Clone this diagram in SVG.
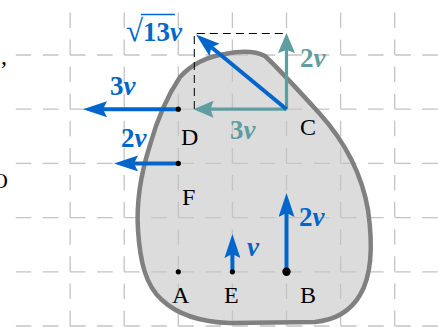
<svg xmlns="http://www.w3.org/2000/svg" width="438" height="327" viewBox="0 0 438 327">
<style>
.grid{stroke:#c4c4c4;stroke-width:1.3;stroke-dasharray:15.5 11.6;fill:none}
.gv{stroke-dashoffset:15.5}
.blue{stroke:#0066cc;stroke-width:4;fill:none}
.teal{stroke:#5f9ea0;stroke-width:3.2;fill:none}
text{font-family:"Liberation Serif","Times New Roman",serif}
.lb{font-size:27px;font-weight:bold;fill:#0066cc}
.lt{font-size:27px;font-weight:bold;fill:#5f9ea0}
.it{font-style:italic}
.nl{font-size:24px;fill:#000}
</style>
<defs>
<marker id="hb" viewBox="0 -8 24 16" markerWidth="24" markerHeight="16" refX="6" refY="0" markerUnits="userSpaceOnUse" orient="auto">
<path d="M0,-8 L24,0 L0,8 L4,0 Z" fill="#0066cc"/>
</marker>
<marker id="ht" viewBox="0 -9 20 18" markerWidth="20" markerHeight="18" refX="5" refY="0" markerUnits="userSpaceOnUse" orient="auto">
<path d="M0,-8.5 L20,0 L0,8.5 L3,0 Z" fill="#5f9ea0"/>
</marker>
</defs>
<rect width="438" height="327" fill="#fff"/>
<text x="1" y="64" font-size="24">,</text>
<text x="-8" y="188" font-size="22">O</text>
<g id="body">
<path id="blob-fill" d="M180,77 C190,66 205,57 225,54 C240,51 255,51 265,56 C280,70 300,92 320,114 C345,142 362,175 368,210 C373,245 372,275 360,295 C350,312 335,320 315,322 L230,323 C200,322 178,315 162,300 C145,285 140,260 138,230 C136,200 142,170 150,145 C157,120 168,95 180,77 Z" fill="#dcdcdc"/>
</g>
<g id="grid">
<line class="grid gv" x1="70.1" y1="0.8" x2="70.1" y2="326"/>
<line class="grid gv" x1="124.2" y1="0.8" x2="124.2" y2="326"/>
<line class="grid gv" x1="178.3" y1="0.8" x2="178.3" y2="326"/>
<line class="grid gv" x1="232.4" y1="0.8" x2="232.4" y2="326"/>
<line class="grid gv" x1="286.5" y1="0.8" x2="286.5" y2="326"/>
<line class="grid gv" x1="340.6" y1="0.8" x2="340.6" y2="326"/>
<line class="grid gv" x1="394.7" y1="0.8" x2="394.7" y2="326"/>
<line class="grid" x1="15.8" y1="55" x2="438" y2="55"/>
<line class="grid" x1="15.8" y1="109.2" x2="438" y2="109.2"/>
<line class="grid" x1="15.8" y1="163.4" x2="438" y2="163.4"/>
<line class="grid" x1="15.8" y1="217.6" x2="438" y2="217.6"/>
<line class="grid" x1="15.8" y1="271.8" x2="438" y2="271.8"/>
<line class="grid" x1="15.8" y1="326" x2="438" y2="326"/>
</g>
<path id="blob-outline" d="M180,77 C190,66 205,57 225,54 C240,51 255,51 265,56 C280,70 300,92 320,114 C345,142 362,175 368,210 C373,245 372,275 360,295 C350,312 335,320 315,322 L230,323 C200,322 178,315 162,300 C145,285 140,260 138,230 C136,200 142,170 150,145 C157,120 168,95 180,77 Z" fill="none" stroke="#808080" stroke-width="4.5"/>
<g id="connectors">
<path d="M194.3,109 L194.3,33.5 L286.5,33.5" fill="none" stroke="#000" stroke-width="1" stroke-dasharray="8 5"/>
<line class="teal" x1="286.5" y1="109.2" x2="208.5" y2="109.2" marker-end="url(#ht)"/>
<line class="teal" x1="286.5" y1="109.2" x2="286.5" y2="48" marker-end="url(#ht)"/>
<line class="blue" x1="286.5" y1="109.2" x2="209.9" y2="46" marker-end="url(#hb)"/>
<line class="blue" x1="178.3" y1="109.2" x2="101" y2="109.2" marker-end="url(#hb)"/>
<line class="blue" x1="178.3" y1="163.4" x2="132" y2="163.4" marker-end="url(#hb)"/>
<line class="blue" x1="232.4" y1="271.8" x2="232.4" y2="252" marker-end="url(#hb)"/>
<line class="blue" x1="286.5" y1="271.8" x2="286.5" y2="211" marker-end="url(#hb)"/>
</g>
<g id="D"><circle cx="178.3" cy="109.2" r="2.6"/><text class="nl" x="181" y="145">D</text></g>
<g id="C"><text class="nl" x="300" y="135">C</text></g>
<g id="F"><circle cx="178.3" cy="163.4" r="2.6"/><text class="nl" x="182" y="205">F</text></g>
<g id="A"><circle cx="178.3" cy="271.8" r="2.6"/><text class="nl" x="172" y="303">A</text></g>
<g id="E"><circle cx="232.4" cy="271.8" r="2.6"/><text class="nl" x="224" y="303">E</text></g>
<g id="B"><circle cx="286.5" cy="271.8" r="4.2"/><text class="nl" x="300" y="303">B</text></g>
<g id="labels">
<text class="lb" x="126" y="41"><tspan font-weight="normal" font-size="31">√</tspan>13<tspan class="it">v</tspan></text>
<line x1="141" y1="14.5" x2="175" y2="14.5" stroke="#0066cc" stroke-width="1.5"/>
<text class="lb" x="110" y="95">3<tspan class="it">v</tspan></text>
<text class="lb" x="121" y="147">2<tspan class="it">v</tspan></text>
<text class="lt" x="300" y="67">2<tspan class="it">v</tspan></text>
<text class="lt" x="230" y="139">3<tspan class="it">v</tspan></text>
<text class="lb" x="299" y="226">2<tspan class="it">v</tspan></text>
<text class="lb" x="247" y="256"><tspan class="it">v</tspan></text>
</g>
</svg>
